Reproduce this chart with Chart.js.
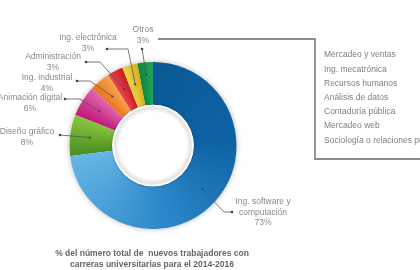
<!DOCTYPE html>
<html>
<head>
<meta charset="utf-8">
<script src="https://cdn.jsdelivr.net/npm/chart.js@4"></script>
<style>
  body { margin: 0; background: #fff; }
  canvas { display: block; }
</style>
</head>
<body>
<canvas id="careersChart" width="420" height="270"></canvas>
<script>
// data
const careers = ['Ing. software y computación', 'Diseño gráfico', 'Animación digital',
  'Ing. industrial', 'Administración', 'Ing. electrónica', 'Otros'];
const shares = [73, 8, 6, 4, 3, 3, 3];
const otherCareers = ['Mercadeo y ventas', 'Ing. mecatrónica', 'Recursos humanos',
  'Análisis de datos', 'Contaduría pública', 'Mercadeo web', 'Sociología o relaciones públicas'];
const titleLines = ['% del número total de  nuevos trabajadores con',
  'carreras universitarias para el 2014-2016'];

// slice colours: start -> end of each slice (clockwise)
const sliceColors = [
  ['#0a5996', '#0e63a5', '#2e89ca', '#66b6e5'],
  ['#4b8f23', '#88c43e'],
  ['#c0187a', '#e064ab'],
  ['#e9741c', '#f6a34b'],
  ['#e64450', '#cf1b22'],
  ['#f1d244', '#d9ae1f'],
  ['#0c873e', '#22a35a']
];

// label placement: text centre, dot, optional elbow
const labelLayout = [
  { x: 263, y: 202, lines: ['Ing. software y', 'computación'], dot: [232, 212], elbow: [224, 212], r: 0.6 },
  { x: 27, y: 132, lines: ['Diseño gráfico'], dot: [60, 135], r: 0.55 },
  { x: 30, y: 98, lines: ['Animación digital'], dot: [65, 99], elbow: [80, 99], r: 0.55 },
  { x: 47, y: 78, lines: ['Ing. industrial'], dot: [77, 81], elbow: [90, 81], r: 0.55 },
  { x: 53, y: 57, lines: ['Administración'], dot: [86, 62], elbow: [100, 62], r: 0.55 },
  { x: 88, y: 38, lines: ['Ing. electrónica'], dot: [107, 49], elbow: [128, 49], r: 0.55 },
  { x: 143, y: 30, lines: ['Otros'], dot: [142, 49], r: 0.72 }
];

const FONT = '"Liberation Sans", Arial, sans-serif';
let cachedGradient = null;

function sliceGradient(chart) {
  if (cachedGradient) return cachedGradient;
  const area = chart.chartArea;
  if (!area) return '#0e63a5';
  const cx = (area.left + area.right) / 2;
  const cy = (area.top + area.bottom) / 2;
  const g = chart.ctx.createConicGradient(-Math.PI / 2, cx, cy);
  const total = shares.reduce((a, b) => a + b, 0);
  let acc = 0;
  shares.forEach((v, i) => {
    const a = acc / total;
    const b = (acc + v) / total;
    const cols = sliceColors[i];
    cols.forEach((c, k) => {
      let t = a + (b - a) * (k / (cols.length - 1));
      if (k === 0) t += 0.0005;
      if (k === cols.length - 1) t -= 0.0005;
      g.addColorStop(Math.max(0, Math.min(t, 1)), c);
    });
    acc += v;
  });
  cachedGradient = g;
  return g;
}

const decorPlugin = {
  id: 'decor',
  beforeDatasetsDraw(chart) {
    const arc = chart.getDatasetMeta(0).data[0];
    if (!arc) return;
    const ctx = chart.ctx;
    ctx.save();
    ctx.beginPath();
    ctx.arc(arc.x, arc.y, arc.outerRadius + 0.5, 0, Math.PI * 2);
    ctx.shadowColor = 'rgba(0,0,0,0.25)';
    ctx.shadowBlur = 5;
    ctx.fillStyle = '#e8e8e8';
    ctx.fill();
    ctx.restore();
  },
  afterDatasetsDraw(chart) {
    const meta = chart.getDatasetMeta(0);
    const ctx = chart.ctx;
    const c0 = meta.data[0];
    // white embossed ring around the hole
    const hr = c0.innerRadius + 1.5;
    ctx.save();
    ctx.beginPath();
    ctx.arc(c0.x, c0.y, hr, 0, Math.PI * 2);
    ctx.shadowColor = 'rgba(0,0,0,0.3)';
    ctx.shadowBlur = 3;
    ctx.fillStyle = '#ffffff';
    ctx.fill();
    ctx.shadowColor = 'transparent';
    const rg = ctx.createRadialGradient(c0.x, c0.y, 0, c0.x, c0.y, hr);
    rg.addColorStop(0, '#ffffff');
    rg.addColorStop(0.82, '#ffffff');
    rg.addColorStop(0.93, '#e2e2e2');
    rg.addColorStop(0.965, '#f6f6f6');
    rg.addColorStop(1, '#ffffff');
    ctx.beginPath();
    ctx.arc(c0.x, c0.y, hr, 0, Math.PI * 2);
    ctx.fillStyle = rg;
    ctx.fill();
    ctx.restore();

    ctx.save();
    ctx.font = '8.5px ' + FONT;
    ctx.textAlign = 'center';
    ctx.textBaseline = 'middle';
    // labels and leader lines
    meta.data.forEach((arc, i) => {
      const lay = labelLayout[i];
      const mid = (arc.startAngle + arc.endAngle) / 2;
      const rr = arc.innerRadius + (arc.outerRadius - arc.innerRadius) * lay.r;
      const ex = arc.x + Math.cos(mid) * rr;
      const ey = arc.y + Math.sin(mid) * rr;
      ctx.strokeStyle = '#555';
      ctx.lineWidth = 0.8;
      ctx.beginPath();
      ctx.moveTo(lay.dot[0], lay.dot[1]);
      if (lay.elbow) ctx.lineTo(lay.elbow[0], lay.elbow[1]);
      ctx.lineTo(ex, ey);
      ctx.stroke();
      ctx.fillStyle = '#444';
      ctx.beginPath();
      ctx.arc(lay.dot[0], lay.dot[1], 1.3, 0, Math.PI * 2);
      ctx.fill();
      ctx.beginPath();
      ctx.arc(ex, ey, 1.1, 0, Math.PI * 2);
      ctx.fill();

      ctx.fillStyle = '#8a8a8a';
      const lines = lay.lines.concat([shares[i] + '%']);
      lines.forEach((t, k) => ctx.fillText(t, lay.x, lay.y + k * 10.5));
    });

    // bracket from "Otros" to the list of other careers
    ctx.strokeStyle = '#8c8c8c';
    ctx.lineWidth = 1.8;
    ctx.beginPath();
    ctx.moveTo(158, 39);
    ctx.lineTo(315, 39);
    ctx.lineTo(315, 159);
    ctx.lineTo(420, 159);
    ctx.stroke();

    ctx.fillStyle = '#808080';
    ctx.textAlign = 'left';
    otherCareers.forEach((t, k) => ctx.fillText(t, 324, 55 + k * 14.2));

    // title
    ctx.font = 'bold 8.5px ' + FONT;
    ctx.fillStyle = '#666';
    ctx.textAlign = 'center';
    titleLines.forEach((t, k) => ctx.fillText(t, 152, 254 + k * 11));
    ctx.restore();
  }
};

new Chart(document.getElementById('careersChart'), {
  type: 'doughnut',
  data: {
    labels: careers,
    datasets: [{
      data: shares,
      backgroundColor: (context) => sliceGradient(context.chart),
      borderWidth: 0
    }]
  },
  options: {
    responsive: false,
    animation: false,
    cutout: '47%',
    layout: { padding: { left: 69, right: 183, top: 62, bottom: 41 } },
    plugins: {
      legend: { display: false },
      tooltip: { enabled: false }
    }
  },
  plugins: [decorPlugin]
});
</script>
</body>
</html>
